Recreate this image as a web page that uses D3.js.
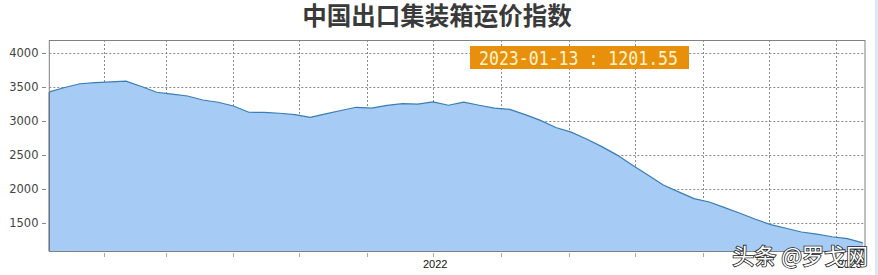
<!DOCTYPE html>
<html>
<head>
<meta charset="utf-8">
<script src="https://cdn.jsdelivr.net/npm/d3@7"></script>
<style>
  html, body { margin: 0; padding: 0; background: #fff; }
  svg { display: block; }
</style>
</head>
<body>
<svg id="chart" width="878" height="275"></svg>
<script>
// ---- data ----
const title = "中国出口集装箱运价指数";
const dates = [
  "2022-01-07","2022-01-14","2022-01-21","2022-01-28","2022-02-11","2022-02-18","2022-02-25",
  "2022-03-04","2022-03-11","2022-03-18","2022-03-25","2022-04-01","2022-04-08","2022-04-15",
  "2022-04-22","2022-04-29","2022-05-06","2022-05-13","2022-05-20","2022-05-27","2022-06-03",
  "2022-06-10","2022-06-17","2022-06-24","2022-07-01","2022-07-08","2022-07-15","2022-07-22",
  "2022-07-29","2022-08-05","2022-08-12","2022-08-19","2022-08-26","2022-09-02","2022-09-09",
  "2022-09-16","2022-09-23","2022-09-30","2022-10-07","2022-10-14","2022-10-21","2022-10-28",
  "2022-11-04","2022-11-11","2022-11-18","2022-11-25","2022-12-02","2022-12-09","2022-12-16",
  "2022-12-23","2022-12-30","2023-01-06","2023-01-13"
];
const values = [
  3430, 3495, 3550, 3566, 3590, 3510, 3425,
  3398, 3370, 3310, 3277, 3222, 3130, 3128,
  3115, 3095, 3055, 3105, 3155, 3203, 3190,
  3232, 3256, 3250, 3282, 3233, 3278, 3233,
  3190, 3173, 3095, 3010, 2905, 2836, 2735,
  2622, 2497, 2348, 2205, 2055, 1955, 1855,
  1805, 1722, 1640, 1551, 1472, 1418, 1362,
  1330, 1292, 1265, 1201.55
];
const yTicks = [1500, 2000, 2500, 3000, 3500, 4000];
const yDomain = [1082, 4196];
const xDomain = ["2022-01-07", "2023-01-14"];
const xLabelDates = ["2022-07-02", "2023-01-07"];
const xLabelTexts = ["2022", "2023"];
const tooltipText = "2023-01-13 : 1201.55";
const watermark = "头条 @罗戈网";

// ---- drawing ----
const parse = d3.timeParse("%Y-%m-%d");
const data = dates.map((d, i) => ({ date: parse(d), value: values[i] }));

const W = 878, H = 275;
const L = 49.3, R = 865, T = 40, B = 251;

const svg = d3.select("#chart");

const x = d3.scaleTime().domain(xDomain.map(parse)).range([L, R]);
const y = d3.scaleLinear().domain(yDomain).range([B, T]);

// right strip
svg.append("rect").attr("x", 875).attr("y", 0).attr("width", 3).attr("height", H).attr("fill", "#dde9f6");

// title
svg.append("text")
  .attr("x", 437).attr("y", 25)
  .attr("text-anchor", "middle")
  .attr("font-family", "'Noto Sans CJK SC', sans-serif")
  .attr("font-weight", "bold")
  .attr("font-size", 24.5)
  .attr("fill", "#3a3a3a")
  .text(title);

// gridlines
const grid = svg.append("g");
const monthTicks = x.ticks(d3.timeMonth.every(1)).filter(d => x(d) > L + 1 && x(d) < R - 1);
grid.selectAll("line.v").data(monthTicks).join("line")
  .attr("x1", d => Math.round(x(d)) + 0.5).attr("x2", d => Math.round(x(d)) + 0.5)
  .attr("y1", T).attr("y2", B)
  .attr("stroke", "#8a8a8a").attr("stroke-width", 1).attr("stroke-dasharray", "2,2");
grid.selectAll("line.h").data(yTicks).join("line")
  .attr("x1", L).attr("x2", R)
  .attr("y1", d => Math.round(y(d)) + 0.5).attr("y2", d => Math.round(y(d)) + 0.5)
  .attr("stroke", "#8a8a8a").attr("stroke-width", 1).attr("stroke-dasharray", "2,2");

// area
const area = d3.area().x(d => x(d.date)).y0(B).y1(d => y(d.value));
svg.append("path").datum(data)
  .attr("d", area)
  .attr("fill", "#a6cbf4");
const line = d3.line().x(d => x(d.date)).y(d => y(d.value));
svg.append("path").datum(data)
  .attr("d", line)
  .attr("fill", "none").attr("stroke", "#3a7db4").attr("stroke-width", 1.2);
// left edge of area
svg.append("path").datum([{ date: data[0].date, value: yDomain[0] }, data[0]])
  .attr("d", line)
  .attr("fill", "none").attr("stroke", "#1f4a78").attr("stroke-width", 1.3);

// frame
svg.append("rect")
  .attr("x", L).attr("y", T + 0.5).attr("width", R - L).attr("height", B - T)
  .attr("fill", "none").attr("stroke", "#808080").attr("stroke-width", 1);

// y axis labels
const yAxisG = svg.append("g");
yAxisG.selectAll("text").data(yTicks).join("text")
  .attr("x", 38.5).attr("y", d => y(d))
  .attr("dy", "0.36em")
  .attr("text-anchor", "end")
  .attr("font-family", "'DejaVu Sans', sans-serif")
  .attr("font-size", 11.5)
  .attr("fill", "#444")
  .text(d => d);
yAxisG.selectAll("line").data(yTicks).join("line")
  .attr("x1", 42).attr("x2", 46)
  .attr("y1", d => Math.round(y(d)) + 0.5).attr("y2", d => Math.round(y(d)) + 0.5)
  .attr("stroke", "#888").attr("stroke-width", 1);

// x axis ticks
svg.append("g").selectAll("line").data(monthTicks).join("line")
  .attr("x1", d => Math.round(x(d)) + 0.5).attr("x2", d => Math.round(x(d)) + 0.5)
  .attr("y1", B + 2).attr("y2", B + 6)
  .attr("stroke", "#aaa").attr("stroke-width", 1);

// x labels
svg.append("g").selectAll("text").data(xLabelDates.map((d, i) => ({ date: parse(d), text: xLabelTexts[i] }))).join("text")
  .attr("x", d => x(d.date)).attr("y", 268)
  .attr("text-anchor", "middle")
  .attr("font-family", "'Liberation Sans', Arial, sans-serif")
  .attr("font-size", 11)
  .attr("fill", "#111")
  .text(d => d.text);

// tooltip
const tip = svg.append("g");
tip.append("rect").attr("x", 470).attr("y", 46).attr("width", 219).attr("height", 23).attr("fill", "#e8900c");
tip.append("text")
  .attr("x", 479).attr("y", 65)
  .attr("font-family", "'DejaVu Sans Mono', monospace")
  .attr("font-size", 20)
  .attr("textLength", 199).attr("lengthAdjust", "spacingAndGlyphs")
  .attr("fill", "#fff4cc")
  .text(tooltipText);

// watermark
svg.append("text")
  .attr("x", 868).attr("y", 264)
  .attr("text-anchor", "end")
  .attr("font-family", "'Noto Sans CJK SC', sans-serif")
  .attr("font-size", 22)
  .attr("fill", "#fff")
  .attr("stroke", "#222").attr("stroke-width", 1.6)
  .attr("paint-order", "stroke")
  .text(watermark);
</script>
</body>
</html>
